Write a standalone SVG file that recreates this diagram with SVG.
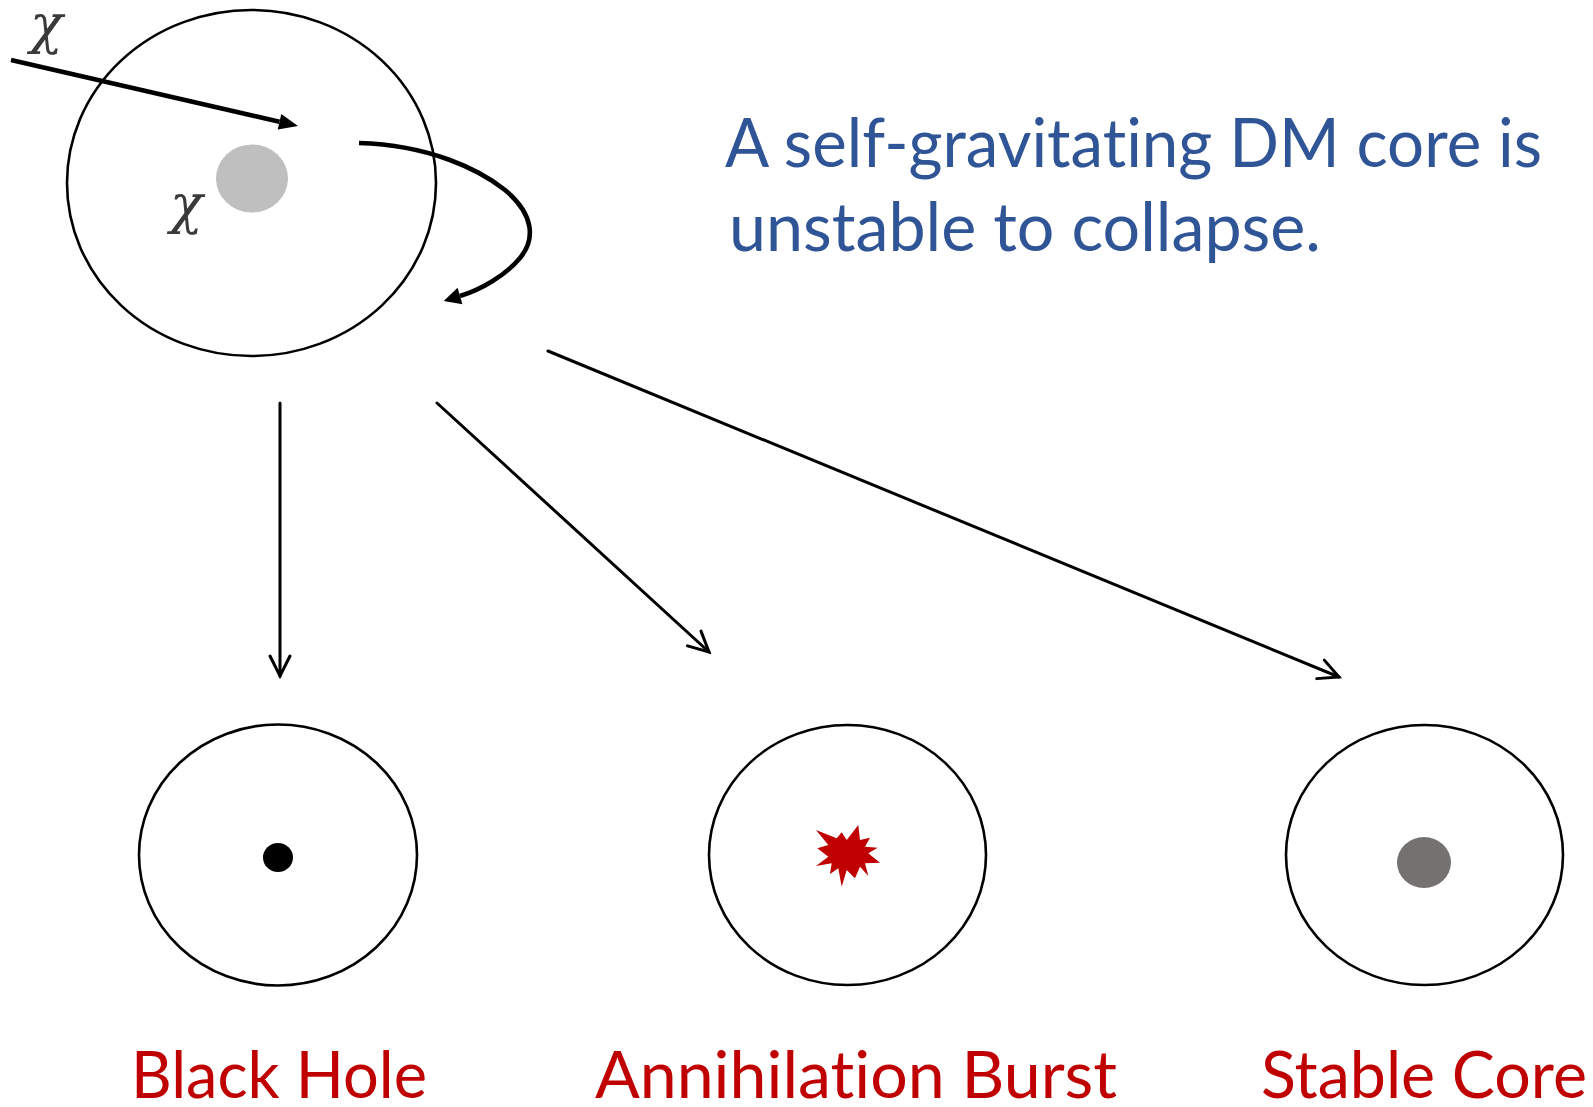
<svg xmlns="http://www.w3.org/2000/svg" width="1593" height="1107" viewBox="0 0 1593 1107">
<style>
.ring{fill:none;stroke:#000;stroke-width:2.6}
.thin{fill:none;stroke:#000;stroke-width:3;stroke-linecap:round}
.thick{fill:none;stroke:#000;stroke-width:4.6}
.chi{font-family:"DejaVu Serif","Liberation Serif",serif;font-style:italic;font-size:54px;fill:#3a3a3a}
.blue{font-family:Lato,"Open Sans",sans-serif;font-size:67px;fill:#2F5597;font-variant-ligatures:none;font-feature-settings:"liga" 0}
.red{font-family:Lato,"Open Sans",sans-serif;font-size:66px;fill:#C00000;font-variant-ligatures:none;font-feature-settings:"liga" 0}
</style>
<defs>
<marker id="open" markerUnits="userSpaceOnUse" markerWidth="30" markerHeight="30" refX="0" refY="0" viewBox="-25 -15 30 30" orient="auto" overflow="visible">
<path d="M-20,-10 L0,0 L-20,10" fill="none" stroke="#000" stroke-width="3" stroke-linecap="round" stroke-linejoin="miter"/>
</marker>
<marker id="solid1" markerUnits="userSpaceOnUse" markerWidth="22" markerHeight="22" refX="0" refY="0" viewBox="0 -11 22 22" orient="auto" overflow="visible">
<path d="M0,-8 L19,0 L0,8 z" fill="#000"/>
</marker>
<marker id="solid2" markerUnits="userSpaceOnUse" markerWidth="22" markerHeight="22" refX="0" refY="0" viewBox="0 -11 22 22" orient="auto" overflow="visible">
<path d="M0,-8.5 L17,0 L0,8.5 z" fill="#000"/>
</marker>
</defs>
<rect width="1593" height="1107" fill="#fff"/>
<g id="source-core">
<ellipse class="ring" cx="251.5" cy="183" rx="184.5" ry="173"/>
<ellipse cx="252" cy="178.5" rx="36" ry="34" fill="#BFBFBF"/>
<text class="chi" x="170" y="223">χ</text>
</g>
<g id="incoming-label">
<text class="chi" x="30" y="43">χ</text>
</g>
<g id="caption">
<text class="blue" x="725" y="167" textLength="817" lengthAdjust="spacingAndGlyphs">A self-gravitating DM core is</text>
<text class="blue" x="729" y="251" textLength="592" lengthAdjust="spacingAndGlyphs">unstable to collapse.</text>
</g>
<g id="black-hole">
<ellipse class="ring" cx="278" cy="855" rx="139" ry="130.5"/>
<ellipse cx="278" cy="857.5" rx="15" ry="14.5" fill="#000"/>
<text class="red" x="131" y="1098" textLength="296" lengthAdjust="spacingAndGlyphs">Black Hole</text>
</g>
<g id="annihilation-burst">
<ellipse class="ring" cx="847.5" cy="855" rx="138.5" ry="130"/>
<polygon fill="#C00000" points="816,830 836.7,838.3 841.7,832.3 846.7,840 858.3,825 860,840 870,837.7 865,846.7 877.7,847.7 868.3,853.3 880,862.7 865,863.3 868.3,876 860,866.7 855,878.3 846.7,870 841.7,886.7 838.3,868.3 830,874 831.7,863.3 816,866 828.3,856.7 817.3,848.3 828.3,845"/>
<text class="red" x="595" y="1098" textLength="522" lengthAdjust="spacingAndGlyphs">Annihilation Burst</text>
</g>
<g id="stable-core">
<ellipse class="ring" cx="1424.5" cy="855" rx="138.5" ry="130"/>
<ellipse cx="1424" cy="862.5" rx="27" ry="25.5" fill="#767171"/>
<text class="red" x="1261" y="1098" textLength="326" lengthAdjust="spacingAndGlyphs">Stable Core</text>
</g>
<g id="connectors">
<line class="thick" x1="11" y1="60" x2="279.5" y2="121.7" marker-end="url(#solid1)"/>
<path class="thick" d="M359,143 C430,145 480,170 505,190 C535,215 535,240 520,258 C505,276 480,290 460,296" marker-end="url(#solid2)"/>
<line class="thin" x1="280" y1="403" x2="280" y2="676" marker-end="url(#open)"/>
<line class="thin" x1="437" y1="403" x2="709" y2="652" marker-end="url(#open)"/>
<line class="thin" x1="548" y1="351" x2="1339" y2="677" marker-end="url(#open)"/>
</g>
</svg>
